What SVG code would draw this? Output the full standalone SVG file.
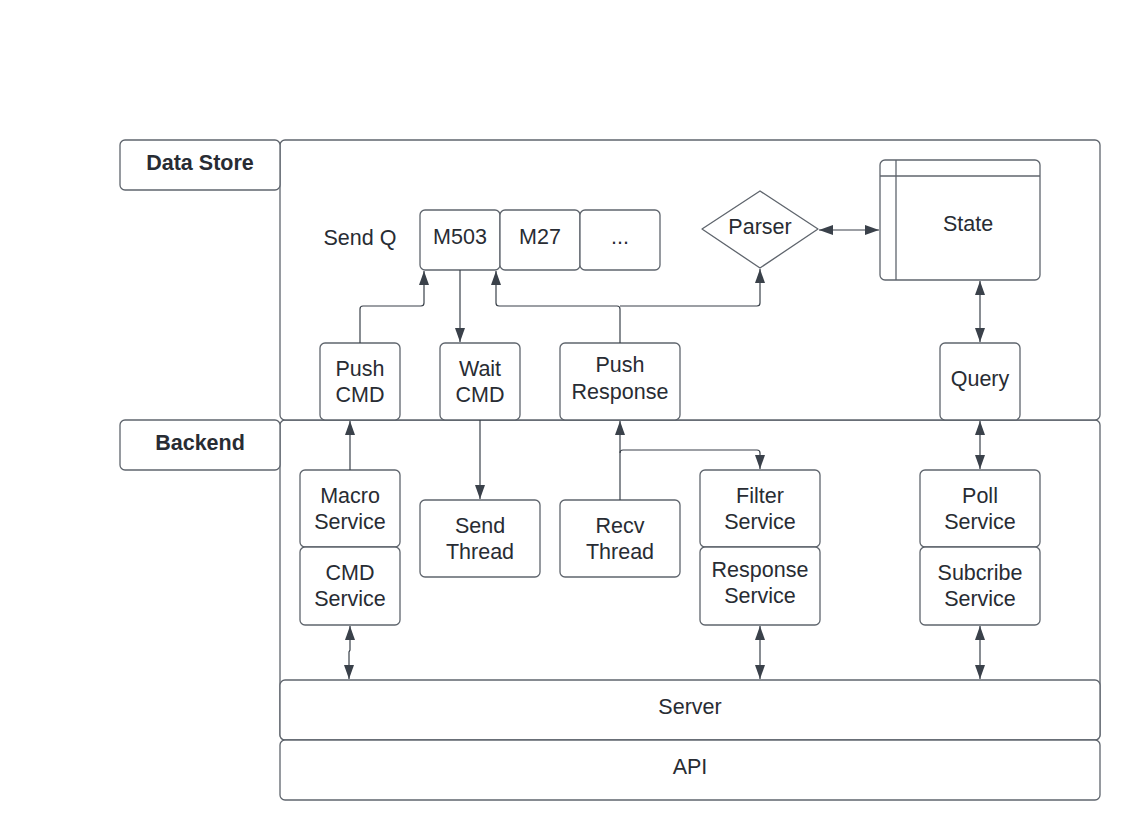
<svg xmlns="http://www.w3.org/2000/svg" width="1140" height="840" viewBox="0 0 1140 840">
<style>
.b{fill:#fff;stroke:#5f656d;stroke-width:1.3}
.t{font-family:"Liberation Sans",Arial,sans-serif;font-size:21.5px;fill:#282c33;text-anchor:middle}
.h{font-weight:bold}
.c{fill:none;stroke:#3a414a;stroke-width:1.2}
</style>
<defs>
<marker id="a" viewBox="0 0 14 10" refX="14" refY="5" markerWidth="14" markerHeight="10" markerUnits="userSpaceOnUse" orient="auto-start-reverse">
<path d="M0,0 L14,5 L0,10 Z" fill="#3a414a"/>
</marker>
</defs>
<rect width="1140" height="840" fill="#fff"/>
<g id="backend-container"><rect class="b" x="280" y="420" width="820" height="320" rx="5"/></g>
<g id="datastore-container"><rect class="b" x="280" y="140" width="820" height="280" rx="5"/></g>
<g id="datastore-label"><rect class="b" x="120" y="140" width="160" height="50" rx="5"/><text class="t h" x="200" y="170">Data Store</text></g>
<g id="backend-label"><rect class="b" x="120" y="420" width="160" height="50" rx="5"/><text class="t h" x="200" y="450">Backend</text></g>
<g id="sendq"><text class="t" x="360" y="245">Send Q</text></g>
<g id="m503"><rect class="b" x="420" y="210" width="80" height="60" rx="5"/><text class="t" x="460" y="244">M503</text></g>
<g id="m27"><rect class="b" x="500" y="210" width="80" height="60" rx="5"/><text class="t" x="540" y="244">M27</text></g>
<g id="more"><rect class="b" x="580" y="210" width="80" height="60" rx="5"/><text class="t" x="620" y="244">...</text></g>
<g id="parser"><path class="b" d="M760,191 L818,229 L760,268 L702,229 Z" stroke-linejoin="round"/><text class="t" x="760" y="234">Parser</text></g>
<g id="state"><rect class="b" x="880" y="160" width="160" height="120" rx="5"/><line class="b" x1="880" y1="176" x2="1040" y2="176"/><line class="b" x1="896" y1="160" x2="896" y2="280"/><text class="t" x="968" y="231">State</text></g>
<g id="pushcmd"><rect class="b" x="320" y="343" width="80" height="77" rx="5"/><text class="t" x="360" y="376">Push</text><text class="t" x="360" y="402">CMD</text></g>
<g id="waitcmd"><rect class="b" x="440" y="343" width="80" height="77" rx="5"/><text class="t" x="480" y="376">Wait</text><text class="t" x="480" y="402">CMD</text></g>
<g id="pushresponse"><rect class="b" x="560" y="343" width="120" height="77" rx="5"/><text class="t" x="620" y="372">Push</text><text class="t" x="620" y="399">Response</text></g>
<g id="query"><rect class="b" x="940" y="343" width="80" height="77" rx="5"/><text class="t" x="980" y="386">Query</text></g>
<g id="macro"><rect class="b" x="300" y="470" width="100" height="77" rx="5"/><text class="t" x="350" y="503">Macro</text><text class="t" x="350" y="529">Service</text></g>
<g id="cmdservice"><rect class="b" x="300" y="547" width="100" height="78" rx="5"/><text class="t" x="350" y="580">CMD</text><text class="t" x="350" y="606">Service</text></g>
<g id="sendthread"><rect class="b" x="420" y="500" width="120" height="77" rx="5"/><text class="t" x="480" y="533">Send</text><text class="t" x="480" y="559">Thread</text></g>
<g id="recvthread"><rect class="b" x="560" y="500" width="120" height="77" rx="5"/><text class="t" x="620" y="533">Recv</text><text class="t" x="620" y="559">Thread</text></g>
<g id="filter"><rect class="b" x="700" y="470" width="120" height="77" rx="5"/><text class="t" x="760" y="503">Filter</text><text class="t" x="760" y="529">Service</text></g>
<g id="response"><rect class="b" x="700" y="547" width="120" height="78" rx="5"/><text class="t" x="760" y="577">Response</text><text class="t" x="760" y="603">Service</text></g>
<g id="poll"><rect class="b" x="920" y="470" width="120" height="77" rx="5"/><text class="t" x="980" y="503">Poll</text><text class="t" x="980" y="529">Service</text></g>
<g id="subcribe"><rect class="b" x="920" y="547" width="120" height="78" rx="5"/><text class="t" x="980" y="580">Subcribe</text><text class="t" x="980" y="606">Service</text></g>
<g id="server"><rect class="b" x="280" y="680" width="820" height="60" rx="5"/><text class="t" x="690" y="714">Server</text></g>
<g id="api"><rect class="b" x="280" y="740" width="820" height="60" rx="5"/><text class="t" x="690" y="774">API</text></g>
<g id="connectors">
<path class="c" d="M360,343 V309 Q360,306 363,306 H421 Q424,306 424,303 V271" marker-end="url(#a)"/>
<path class="c" d="M460,270 V342" marker-end="url(#a)"/>
<path class="c" d="M620,343 V309 Q620,306 617,306 H499 Q496,306 496,303 V271" marker-end="url(#a)"/>
<path class="c" d="M620,306 H757 Q760,306 760,303 V269" marker-end="url(#a)"/>
<path class="c" d="M819,230 H879" marker-start="url(#a)" marker-end="url(#a)"/>
<path class="c" d="M980,281 V342" marker-start="url(#a)" marker-end="url(#a)"/>
<path class="c" d="M350,470 V421" marker-end="url(#a)"/>
<path class="c" d="M480,420 V499" marker-end="url(#a)"/>
<path class="c" d="M620,500 V421" marker-end="url(#a)"/>
<path class="c" d="M620,453 Q620,450 623,450 H757 Q760,450 760,453 V469" marker-end="url(#a)"/>
<path class="c" d="M980,421 V469" marker-start="url(#a)" marker-end="url(#a)"/>
<path class="c" d="M350,626 V650 L349,652 V679" marker-start="url(#a)" marker-end="url(#a)"/>
<path class="c" d="M760,626 V679" marker-start="url(#a)" marker-end="url(#a)"/>
<path class="c" d="M980,626 V679" marker-start="url(#a)" marker-end="url(#a)"/>
</g>
</svg>
